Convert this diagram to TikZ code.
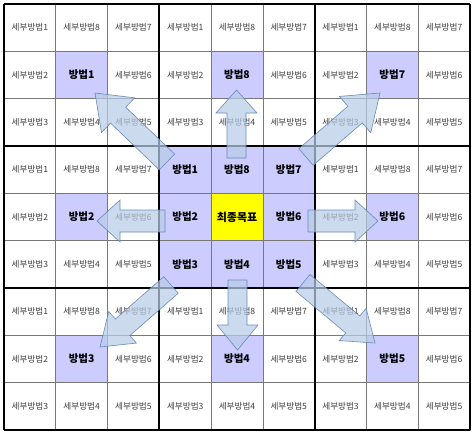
\documentclass[tikz,border=0pt]{standalone}
\usepackage{fontspec}
\newfontfamily\kr{Noto Sans CJK KR}
\usetikzlibrary{calc}
\definecolor{lav}{RGB}{204,204,255}
\definecolor{goal}{RGB}{255,255,0}
\definecolor{arrfill}{RGB}{184,204,230}
\definecolor{arrline}{RGB}{95,130,180}
\definecolor{subtxt}{RGB}{64,64,64}
\definecolor{thin}{RGB}{120,120,120}
\newcommand\patnum[1]{\ifcase#1 1\or 8\or 7\or 2\or 0\or 6\or 3\or 4\or 5\fi}
\newcommand\blockarr[5]{%
  \coordinate (#1-b) at ($(#2)!#5!(#1)$);
  \path[barrow] ($(#1)!#3!90:(#2)$) -- ($(#1-b)!#3!-90:(#1)$) -- ($(#1-b)!#4!-90:(#1)$) -- (#2)
     -- ($(#1-b)!#4!90:(#1)$) -- ($(#1-b)!#3!90:(#1)$) -- ($(#1)!#3!-90:(#2)$) -- cycle;}
\begin{document}
\begin{tikzpicture}[x=1pt,y=-1pt,
  cellbox/.style={draw=thin, line width=0.7pt, minimum width=51.78pt, minimum height=47.33pt, inner sep=0pt, outer sep=0pt},
  subcell/.style={cellbox, font=\kr\fontsize{8.6}{9}\selectfont, text=subtxt},
  maincell/.style={cellbox, fill=lav, font=\kr\bfseries\fontsize{10.5}{11}\selectfont},
  goalcell/.style={cellbox, fill=goal, font=\kr\bfseries\fontsize{11}{12}\selectfont},
  thick grid/.style={line width=1.8pt, black},
  barrow/.style={fill=arrfill, fill opacity=0.72, draw=arrline, draw opacity=0.9, line width=0.6pt, line join=miter}]
\useasboundingbox (0,0) rectangle (474,436);
\fill[white] (0,0) rectangle (474,436);
\def\cw{51.778}
\def\ch{47.333}
\foreach \r in {0,...,8}{
  \foreach \c in {0,...,8}{
    \pgfmathtruncatemacro\br{\r/3}
    \pgfmathtruncatemacro\bc{\c/3}
    \pgfmathtruncatemacro\ii{(\r-3*\br)*3+(\c-3*\bc)}
    \pgfmathtruncatemacro\bi{\br*3+\bc}
    \pgfmathsetmacro\xx{4+(\c+0.5)*\cw}
    \pgfmathsetmacro\yy{4+(\r+0.5)*\ch}
    \ifnum\bi=4
      \ifnum\ii=4
        \node[goalcell] (cell-\r-\c) at (\xx,\yy) {최종목표};
      \else
        \node[maincell] (cell-\r-\c) at (\xx,\yy) {방법\patnum{\ii}};
      \fi
    \else
      \ifnum\ii=4
        \node[maincell] (cell-\r-\c) at (\xx,\yy) {방법\patnum{\bi}};
      \else
        \node[subcell] (cell-\r-\c) at (\xx,\yy) {세부방법\patnum{\ii}};
      \fi
    \fi
  }
}
% thick block borders
\foreach \k in {0,3,6,9}{
  \draw[thick grid] (4+\k*\cw,4) -- (4+\k*\cw,430);
  \draw[thick grid] (4,4+\k*\ch) -- (470,4+\k*\ch);
}
% arrows
\coordinate (up-t) at (236.5,158);  \coordinate (up-h) at (236.5,90);
\coordinate (dn-t) at (237.5,280);  \coordinate (dn-h) at (237.5,350);
\coordinate (lf-t) at (165,221);    \coordinate (lf-h) at (97,221);
\coordinate (rt-t) at (308,221);    \coordinate (rt-h) at (378,221);
\coordinate (ul-t) at (167,162);    \coordinate (ul-h) at (95,93);
\coordinate (ur-t) at (306,157);    \coordinate (ur-h) at (380,93);
\coordinate (ll-t) at (171,285);    \coordinate (ll-h) at (100,347);
\coordinate (lr-t) at (303,283);    \coordinate (lr-h) at (375,343);
\blockarr{up-t}{up-h}{9.5pt}{20.5pt}{23pt}
\blockarr{dn-t}{dn-h}{9.5pt}{20.5pt}{25pt}
\blockarr{lf-t}{lf-h}{11pt}{21pt}{23pt}
\blockarr{rt-t}{rt-h}{11pt}{21pt}{23pt}
\blockarr{ul-t}{ul-h}{11pt}{24pt}{32pt}
\blockarr{ur-t}{ur-h}{11pt}{24pt}{33pt}
\blockarr{ll-t}{ll-h}{11pt}{21pt}{30pt}
\blockarr{lr-t}{lr-h}{11pt}{21pt}{29pt}
\end{tikzpicture}
\end{document}
